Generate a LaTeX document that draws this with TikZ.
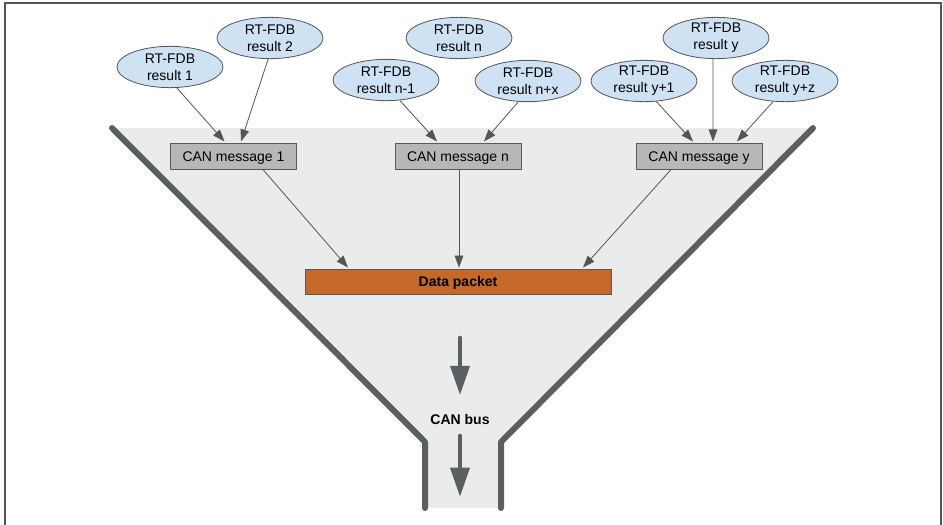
\documentclass[tikz,border=0pt]{standalone}
\usepackage{fontspec}
\setmainfont{Liberation Sans}
\usetikzlibrary{arrows.meta,positioning,shapes.geometric,calc}

\definecolor{resfill}{HTML}{CFE2F3}
\definecolor{resline}{HTML}{555555}
\definecolor{boxfill}{HTML}{B7B7B7}
\definecolor{boxline}{HTML}{595959}
\definecolor{pktfill}{HTML}{C4692A}
\definecolor{funnelfill}{HTML}{EAEBEB}
\definecolor{wallgray}{HTML}{5B5F61}
\definecolor{relgray}{HTML}{555555}
\definecolor{framegray}{HTML}{555555}

\begin{document}
\begin{tikzpicture}[
  x=0.75pt, y=-0.75pt,
  font=\fontsize{10.5}{12.75}\selectfont,
  res/.style={draw=resline, line width=0.6pt, ellipse, fill=resfill, align=center, minimum width=79.5pt, minimum height=31pt, inner xsep=0pt, inner ysep=-4pt},
  msg/.style={draw=boxline, line width=0.6pt, fill=boxfill, minimum width=94.5pt, minimum height=19pt, inner sep=0pt, text height=7.5pt, text depth=0pt},
  pkt/.style={draw=boxline, fill=pktfill, minimum width=229.5pt, minimum height=19pt, inner sep=0pt, text height=7.5pt, text depth=0pt, font=\fontsize{10.5}{12}\selectfont\bfseries},
  rel/.style={draw=relgray, line width=0.6pt, -{Triangle[length=9pt,width=6.5pt]}},
  wall/.style={draw=wallgray, line width=4.5pt, line cap=round, line join=round},
  flow/.style={draw=wallgray, line width=3.5pt, line cap=round, -{Triangle[length=22pt,width=14pt]}}
]
\useasboundingbox (0,0) rectangle (943,525);

% frame, open at the bottom
\draw[framegray, line width=1.2pt] (5,525) -- (5,3) -- (941,3) -- (941,525);

% funnel
\fill[funnelfill] (112,128) -- (813,128) -- (501,442) -- (501,508) -- (425,508) -- (425,442) -- cycle;
\draw[wall] (112,128) -- (425,442) -- (425,508);
\draw[wall] (813,128) -- (501,442) -- (501,508);

% RT-FDB results
\node[res] (r1)  at (170,67) {RT-FDB\\result 1};
\node[res] (r2)  at (270,38) {RT-FDB\\result 2};
\node[res] (rn1) at (386,80) {RT-FDB\\result n-1};
\node[res] (rn)  at (459,38) {RT-FDB\\result n};
\node[res] (rnx) at (528,81) {RT-FDB\\result n+x};
\node[res] (ry1) at (644,81) {RT-FDB\\result y+1};
\node[res] (ry)  at (716,38) {RT-FDB\\result y};
\node[res] (ryz) at (785,81) {RT-FDB\\result y+z};

% CAN messages
\node[msg] (m1) at (233.5,156.5) {CAN message 1};
\node[msg] (mn) at (458,156.5) {CAN message n};
\node[msg] (my) at (699,156.5) {CAN message y};

\node[pkt] (dp) at (458,281.5) {Data packet};
\node[font=\fontsize{10.5}{12}\selectfont\bfseries] (bus) at (460,419) {CAN bus};

\draw[rel] (r1.-72) -- ($(m1.north)+(-9,-2)$);
\draw[rel] (r2.-95) -- ($(m1.north)+(7.5,-2)$);
\draw[rel] (rn1.-56) -- ($(mn.north)+(-21,-2)$);
\draw[rel] (rnx.-115) -- ($(mn.north)+(26,-2)$);
\draw[rel] (ry1.-59) -- ($(my.north)+(-6,-2)$);
\draw[rel] (ry.-98) -- ($(my.north)+(14,-2)$);
\draw[rel] (ryz.-120) -- ($(my.north)+(38,-2)$);

\draw[rel] ($(m1.south)+(29.5,0)$) -- ($(dp.north)+(-110,-1)$);
\draw[rel] ($(mn.south)+(1,0)$) -- ($(dp.north)+(1,-1)$);
\draw[rel] ($(my.south)+(-28,0)$) -- ($(dp.north)+(125,-1)$);

% flow down the bus
\coordinate (flowtop) at (460,338);
\coordinate (spouttop) at (460,436);
\coordinate (spoutend) at (460,497);
\draw[flow] (flowtop) -- ($(bus.north)+(0,-14)$);
\draw[flow] (spouttop) -- (spoutend);
\end{tikzpicture}
\end{document}
